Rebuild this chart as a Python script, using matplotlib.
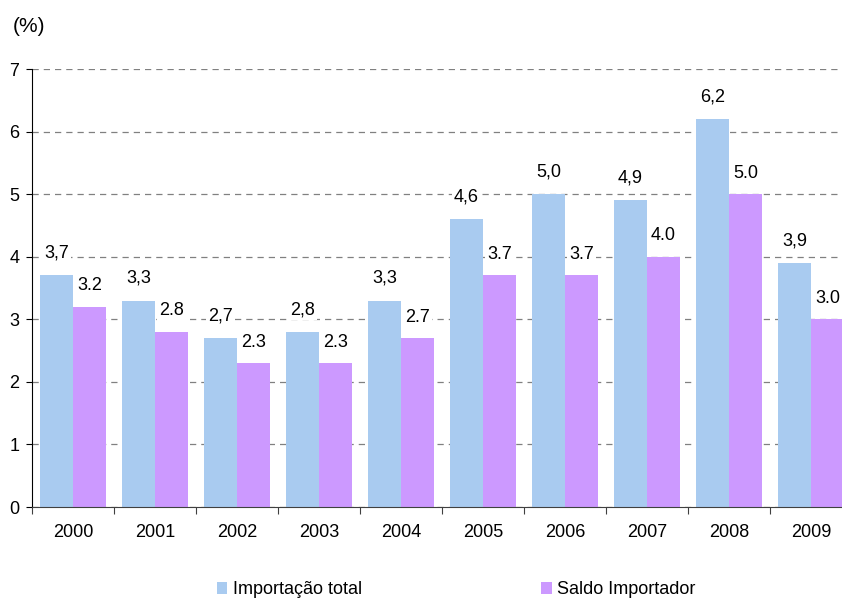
import numpy as np
import matplotlib.pyplot as plt
from matplotlib.ticker import FixedLocator, NullFormatter

plt.rcParams['font.family'] = ['Liberation Sans', 'DejaVu Sans']

years = ['2000', '2001', '2002', '2003', '2004', '2005', '2006', '2007', '2008', '2009']
importacao = [3.7, 3.3, 2.7, 2.8, 3.3, 4.6, 5.0, 4.9, 6.2, 3.9]
saldo = [3.2, 2.8, 2.3, 2.3, 2.7, 3.7, 3.7, 4.0, 5.0, 3.0]

blue = '#a9cbf0'
purple = '#cc99ff'
fs = 13

fig = plt.figure(figsize=(8.42, 6.01), dpi=100)
ax = fig.add_axes([32 / 842, 94 / 601, 820 / 842, 438 / 601])

x = np.arange(len(years))
w = 0.4
b1 = ax.bar(x - w / 2, importacao, w, color=blue, label='Importação total', zorder=2)
b2 = ax.bar(x + w / 2, saldo, w, color=purple, label='Saldo Importador', zorder=2)

# value labels: comma decimals for the first series, dots for the second
box = dict(facecolor='white', edgecolor='none', pad=1.5)
for xi, v in zip(x, importacao):
    ax.annotate(f'{v:.1f}'.replace('.', ','), (xi - w / 2, v), xytext=(0, 16),
                textcoords='offset points', ha='center', va='center',
                fontsize=fs, bbox=box, zorder=3)
for xi, v in zip(x, saldo):
    ax.annotate(f'{v:.1f}', (xi + w / 2, v), xytext=(0, 15),
                textcoords='offset points', ha='center', va='center',
                fontsize=fs, bbox=box, zorder=3)

ax.set_xlim(-0.5, len(years) - 0.5)
ax.set_ylim(0, 7)
ax.set_yticks(range(0, 8))
ax.tick_params(axis='y', labelsize=fs, length=4, direction='out', pad=5)

# category labels centred, tick marks on group boundaries
ax.xaxis.set_major_locator(FixedLocator(np.arange(-0.5, len(years))))
ax.xaxis.set_major_formatter(NullFormatter())
ax.xaxis.set_minor_locator(FixedLocator(x))
ax.set_xticklabels(years, minor=True)
ax.tick_params(axis='x', which='major', length=5, color='#404040')
ax.tick_params(axis='x', which='minor', length=0, labelsize=fs, pad=12)

ax.yaxis.grid(True, linestyle=(0, (5, 4)), color='#808080', linewidth=0.9, zorder=0)
ax.set_axisbelow(True)
for s in ['top', 'right']:
    ax.spines[s].set_visible(False)
ax.spines['left'].set_color('black')
ax.spines['bottom'].set_color('#404040')

fig.text(13 / 842, 1 - 27 / 601, '(%)', fontsize=15, va='center', ha='left')

fig.legend(handles=[b1, b2], loc='center', bbox_to_anchor=(456 / 842, 11 / 601),
           ncol=2, frameon=False, fontsize=fs, handlelength=0.6, handleheight=0.6,
           handletextpad=0.3, columnspacing=9.9)

fig.savefig('out.png', dpi=100)
